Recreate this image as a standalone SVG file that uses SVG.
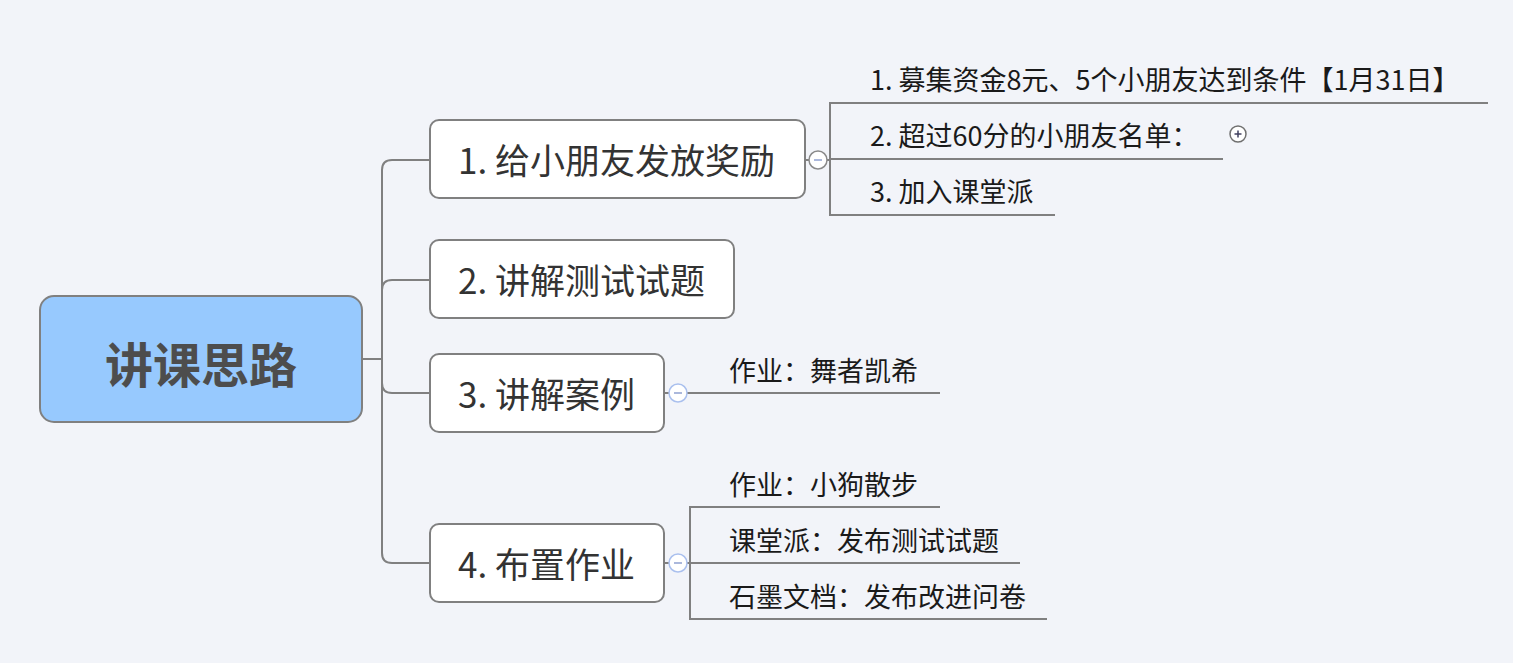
<svg xmlns="http://www.w3.org/2000/svg" width="1513" height="663" viewBox="0 0 1513 663">
<style>
.bg{fill:#f2f4f9}
.node{fill:#ffffff;stroke:#808080;stroke-width:2}
.root{fill:#97c9fe;stroke:#808080;stroke-width:2}
.line{fill:none;stroke:#808080;stroke-width:2}
.t{font-family:"Noto Sans CJK SC","Noto Sans",sans-serif;dominant-baseline:central}
.rt{font-size:48px;font-weight:bold;fill:#4d4d4d;text-anchor:middle}
.bt{font-size:35px;fill:#333333}
.ct{font-size:27px;fill:#1a1a1a}
.tg{fill:#ffffff;stroke:#8a8a8a;stroke-width:1.5}
.tgb{fill:#ffffff;stroke:#aac0ee;stroke-width:1.5}
.minus{stroke:#8fa0d0;stroke-width:1.5}
</style>
<rect class="bg" x="0" y="0" width="1513" height="663"/>
<g id="connectors">
<path class="line" d="M362 359 H382"/>
<path class="line" d="M430 160 H392 Q382 160 382 170 V553 Q382 563 392 563 H430"/>
<path class="line" d="M382 290 Q382 280 392 280 H430"/>
<path class="line" d="M382 383 Q382 393 392 393 H430"/>
<path class="line" d="M805 160 H830"/>
<path class="line" d="M1488 103 H830 V215 H1055"/>
<path class="line" d="M830 159 H1223"/>
<path class="line" d="M664 393 H940"/>
<path class="line" d="M664 563 H690"/>
<path class="line" d="M940 507 H690 V619 H1047"/>
<path class="line" d="M690 563 H1020"/>
</g>
<g id="root">
<rect class="root" x="40" y="296" width="322" height="126" rx="14"/>
<text class="t rt" x="201" y="362">讲课思路</text>
</g>
<g id="b1">
<rect class="node" x="430" y="120" width="375" height="78" rx="9"/>
<text class="t bt" x="458" y="158">1. 给小朋友发放奖励</text>
</g>
<g id="b1-toggle">
<circle class="tg" cx="818" cy="160" r="9"/>
<path class="minus" d="M814 160 H822"/>
</g>
<g id="b2">
<rect class="node" x="430" y="240" width="304" height="78" rx="9"/>
<text class="t bt" x="458" y="278">2. 讲解测试试题</text>
</g>
<g id="b3">
<rect class="node" x="430" y="354" width="234" height="78" rx="9"/>
<text class="t bt" x="458" y="392">3. 讲解案例</text>
</g>
<g id="b3-toggle">
<circle class="tgb" cx="678" cy="393" r="9"/>
<path class="minus" d="M674 393 H682"/>
</g>
<g id="b4">
<rect class="node" x="430" y="524" width="234" height="78" rx="9"/>
<text class="t bt" x="458" y="562">4. 布置作业</text>
</g>
<g id="b4-toggle">
<circle class="tgb" cx="678" cy="563" r="9"/>
<path class="minus" d="M674 563 H682"/>
</g>
<g id="c11"><text class="t ct" x="870" y="78">1. 募集资金8元、5个小朋友达到条件【1月31日】</text></g>
<g id="c12"><text class="t ct" x="870" y="134">2. 超过60分的小朋友名单：</text></g>
<g id="c12-toggle">
<circle cx="1238" cy="134" r="8" fill="#ffffff" stroke="#707070" stroke-width="1.5"/>
<path d="M1234.5 134 H1241.5 M1238 130.5 V137.5" stroke="#404060" stroke-width="1.5"/>
</g>
<g id="c13"><text class="t ct" x="870" y="190">3. 加入课堂派</text></g>
<g id="c31"><text class="t ct" x="729" y="369">作业：舞者凯希</text></g>
<g id="c41"><text class="t ct" x="729" y="483">作业：小狗散步</text></g>
<g id="c42"><text class="t ct" x="729" y="539">课堂派：发布测试试题</text></g>
<g id="c43"><text class="t ct" x="729" y="595">石墨文档：发布改进问卷</text></g>
</svg>
